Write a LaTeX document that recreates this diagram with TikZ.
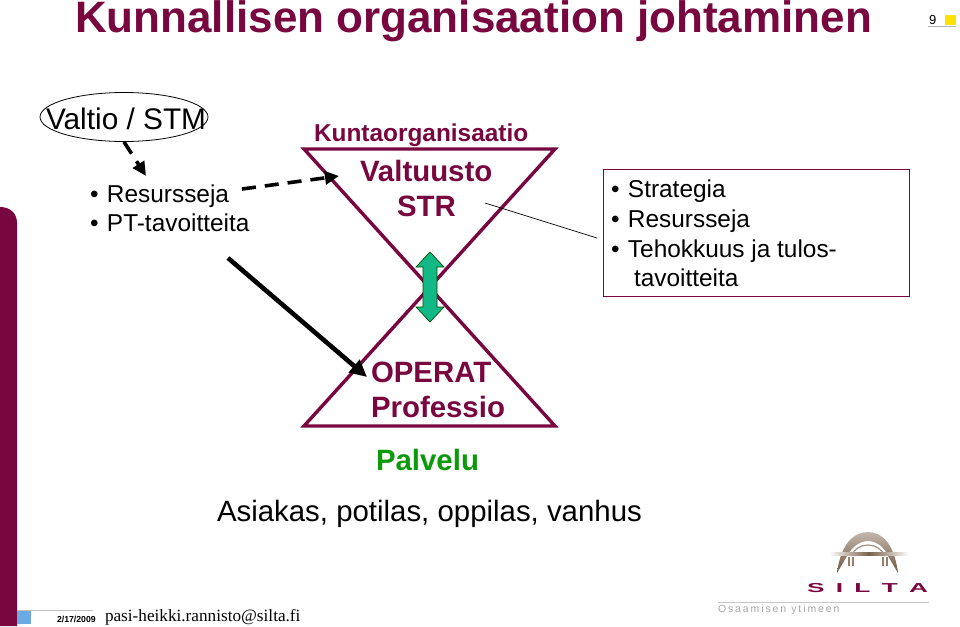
\documentclass[tikz,border=0pt]{standalone}
\usepackage{fontspec}
\setmainfont{Liberation Sans}
\newfontfamily\serifmail{Liberation Serif}
\usetikzlibrary{arrows.meta,shapes.geometric}
\definecolor{siltared}{HTML}{78063F}
\definecolor{siltagreen}{HTML}{0A9A0A}
\definecolor{arrowgreen}{HTML}{12B886}
\definecolor{siltablue}{HTML}{6AABE4}
\definecolor{siltagold}{HTML}{7A6048}
\newcommand{\fs}[1]{\fontsize{#1}{#1}\selectfont}
\newcommand{\bul}[2]{\makebox[#1pt][l]{\textbullet}#2}
\tikzset{
  txt/.style={anchor=base west,inner sep=0pt,outer sep=0pt},
  dasharrow/.style={line width=3.6pt,dash pattern=on 14pt off 9pt,-{Triangle[length=14pt,width=13pt]}},
  wedge/.style={draw=siltared,line width=3.4pt,line join=miter},
  listtext/.style={txt,font=\fs{24.4},text=black},
  heading/.style={txt,font=\fs{29.4}\bfseries,text=siltared}
}
\begin{document}
\begin{tikzpicture}[x=1pt,y=-1pt]
  \useasboundingbox (0,0) rectangle (960,626);
  % side bar and footer
  \fill[siltared] (0,626) -- (0,207) .. controls (10,207) and (17,213) .. (17,223) -- (17,626) -- cycle;
  \fill[siltablue] (17,610) rectangle (31,624);
  \draw[black!25,line width=1pt] (17,610) -- (93,610);
  \node[txt,font=\fs{8.7}\bfseries] (date) at (57,622) {2/17/2009};
  \node[txt,font=\fs{17.2}\serifmail] (mail) at (105,621) {pasi-heikki.rannisto@silta.fi};
  % page number
  \fill[yellow!85!orange] (945,15) rectangle (956,25);
  \draw[black!30,line width=1pt] (928,26.5) -- (956,26.5);
  \node[txt,font=\fs{13}] (page) at (929,25) {9};
  \node[txt,font=\fs{44}\bfseries,text=siltared] (title) at (75,33) {Kunnallisen organisaation johtaminen};
  % left column
  \node[ellipse,draw,line width=0.8pt,minimum width=168pt,minimum height=49pt,inner sep=0pt] (valtio) at (124,117) {};
  \node[txt,font=\fs{29.8}] (valtiotxt) at (46,129) {Valtio / STM};
  \node[listtext] (res) at (90,202) {\bul{17}{Resursseja}};
  \node[listtext] (pt) at (90,231) {\bul{17}{PT-tavoitteita}};
  % the two triangles
  \coordinate (tl) at (304,149);
  \coordinate (tr) at (555,149);
  \coordinate (bl) at (304,426);
  \coordinate (br) at (555,426);
  \draw[wedge] (tl) -- (tr) -- (bl) -- (br) -- cycle;
  \node[txt,font=\fs{24.4}\bfseries,text=siltared] (kunta) at (314,141) {Kuntaorganisaatio};
  \node[heading] (valtuusto) at (360,181) {Valtuusto};
  \node[heading] (str) at (397,216) {STR};
  \node[heading] (operat) at (371,382) {OPERAT};
  \node[heading] (prof) at (371,417) {Professio};
  \node[txt,font=\fs{29.4}\bfseries,text=siltagreen] (palvelu) at (376,470) {Palvelu};
  \node[txt,font=\fs{29.4}] (asiakas) at (217,521) {Asiakas, potilas, oppilas, vanhus};
  % connectors
  \coordinate (a1) at (146,176);
  \coordinate (b0) at (242,189);
  \coordinate (b1) at (339,176);
  \coordinate (c0) at (228,258);
  \coordinate (c1) at (367,377);
  \coordinate (d0) at (485,203);
  \coordinate (d1) at (597,238);
  \draw[dasharrow] (valtio.south) -- (a1);
  \draw[dasharrow] (b0) -- (b1);
  \draw[line width=4.6pt,-{Triangle[length=17pt,width=16pt]}] (c0) -- (c1);
  \draw[line width=0.7pt] (d0) -- (d1);
  % green arrow
  \draw[fill=arrowgreen,draw=black!70!green,line width=0.7pt] (430,252) -- (444,267) -- (437,267) -- (437,307) -- (444,307) -- (430,322) -- (416,307) -- (423,307) -- (423,267) -- (416,267) -- cycle;
  % box on the right
  \draw[siltared,line width=1pt] (603,169) rectangle (909,296);
  \foreach \n/\y/\t in {st/197/Strategia,rs/227/Resursseja,te/257/{Tehokkuus ja tulos-}}{
    \node[listtext] (\n) at (611,\y) {\bul{17}{\t}};
  }
  \node[listtext] (tav) at (634,286) {tavoitteita};
  % logo
  \shade[top color=siltagold!45,bottom color=siltagold!90!black] (837,573) .. controls (841,542) and (855,532) .. (868,532) .. controls (881,532) and (894,542) .. (898,573) -- (888,556) .. controls (885,548) and (877,541) .. (868,541) .. controls (859,541) and (851,548) .. (847,556) -- cycle;
  \draw[siltagold!70,line width=1.2pt] (851,556) .. controls (854,549) and (861,545) .. (868,545) .. controls (875,545) and (882,549) .. (885,556);
  \shade[left color=white,right color=white,middle color=siltagold] (829,552.5) rectangle (909,555.5);
  \foreach \x in {849,853,883,887}{\draw[siltagold!80,line width=1.4pt] (\x,557) -- (\x,566);}
  \node[txt,font=\fs{13}\bfseries,text=siltared,xscale=2.02] (silta) at (807,592) {S\hspace{5.6pt}I\hspace{5.6pt}L\hspace{5.6pt}T\hspace{5.6pt}A};
  \draw[black!22,line width=1pt] (718,602) -- (929,602);
  \node[txt,font=\fs{10.5},text=black!35] (ytimeen) at (718,612) {O\hspace{1.9pt}s\hspace{1.9pt}a\hspace{1.9pt}a\hspace{1.9pt}m\hspace{1.9pt}i\hspace{1.9pt}s\hspace{1.9pt}e\hspace{1.9pt}n\hspace{5pt}y\hspace{1.9pt}t\hspace{1.9pt}i\hspace{1.9pt}m\hspace{1.9pt}e\hspace{1.9pt}e\hspace{1.9pt}n};
\end{tikzpicture}
\end{document}
